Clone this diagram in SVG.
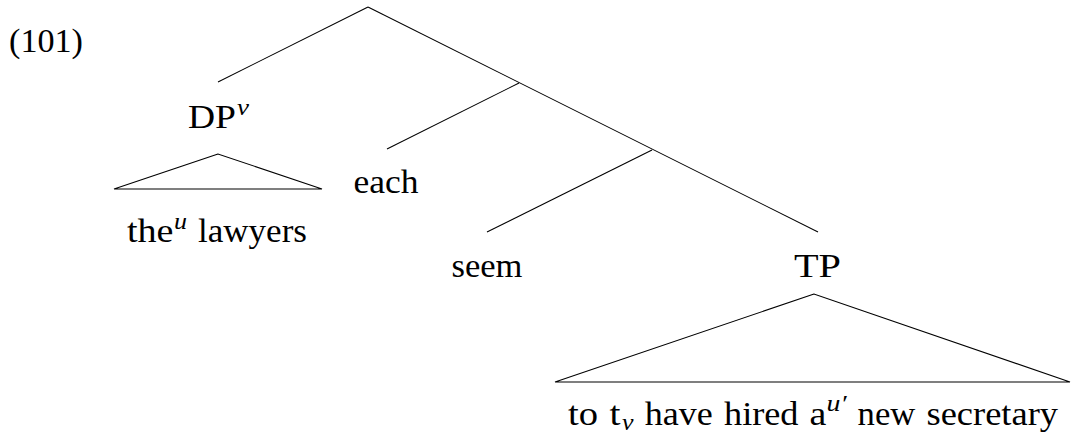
<svg xmlns="http://www.w3.org/2000/svg" width="1071" height="444" viewBox="0 0 1071 444">
<style>
text{font-size:33px;fill:#000}
.sup{font-size:23px;font-style:italic}
.e{stroke:#000;stroke-width:1.1;fill:none}
.tri{stroke:#000;stroke-width:1.1;fill:none;stroke-linejoin:miter}
</style>
<rect width="1071" height="444" fill="#fff"/>
<g font-family="'Liberation Serif', 'Times New Roman', Times, 'DejaVu Serif', serif">
<g id="example-number"><text x="9" y="52" textLength="74" lengthAdjust="spacingAndGlyphs">(101)</text></g>
<g id="connectors">
<line class="e" x1="368" y1="7" x2="218" y2="82"/>
<line class="e" x1="368" y1="7" x2="818" y2="232"/>
<line class="e" x1="519" y1="83" x2="387" y2="149"/>
<line class="e" x1="652" y1="150" x2="487" y2="232"/>
</g>
<g id="node-dp">
<text y="128"><tspan x="188" textLength="48" lengthAdjust="spacingAndGlyphs">DP</tspan><tspan class="sup" x="237" dy="-13" textLength="12" lengthAdjust="spacingAndGlyphs">v</tspan></text>
<polygon class="tri" points="218,154 114,189 322,189"/>
<text y="242"><tspan x="127" textLength="46.5" lengthAdjust="spacingAndGlyphs">the</tspan><tspan class="sup" x="174" dy="-13" textLength="13" lengthAdjust="spacingAndGlyphs">u</tspan><tspan x="198" dy="13" textLength="109" lengthAdjust="spacingAndGlyphs">lawyers</tspan></text>
</g>
<g id="node-each"><text x="353.5" y="193" textLength="65" lengthAdjust="spacingAndGlyphs">each</text></g>
<g id="node-seem"><text x="451.5" y="277" textLength="71" lengthAdjust="spacingAndGlyphs">seem</text></g>
<g id="node-tp">
<text x="794" y="277" textLength="47" lengthAdjust="spacingAndGlyphs">TP</text>
<polygon class="tri" points="814,294 555,382 1070,382"/>
<text y="425"><tspan x="568" textLength="30" lengthAdjust="spacingAndGlyphs">to</tspan><tspan x="609.5" textLength="11" lengthAdjust="spacingAndGlyphs">t</tspan><tspan class="sup" x="622" dy="5" textLength="11.5" lengthAdjust="spacingAndGlyphs">v</tspan><tspan x="644.7" dy="-5" textLength="68" lengthAdjust="spacingAndGlyphs">have</tspan><tspan x="724" textLength="74.5" lengthAdjust="spacingAndGlyphs">hired</tspan><tspan x="809.5" textLength="16.8" lengthAdjust="spacingAndGlyphs">a</tspan><tspan class="sup" x="826.5" dy="-14" textLength="20" lengthAdjust="spacingAndGlyphs">u′</tspan><tspan x="857.6" dy="14" textLength="57.7" lengthAdjust="spacingAndGlyphs">new</tspan><tspan x="926.5" textLength="131.5" lengthAdjust="spacingAndGlyphs">secretary</tspan></text>
</g>
</g>
</svg>
